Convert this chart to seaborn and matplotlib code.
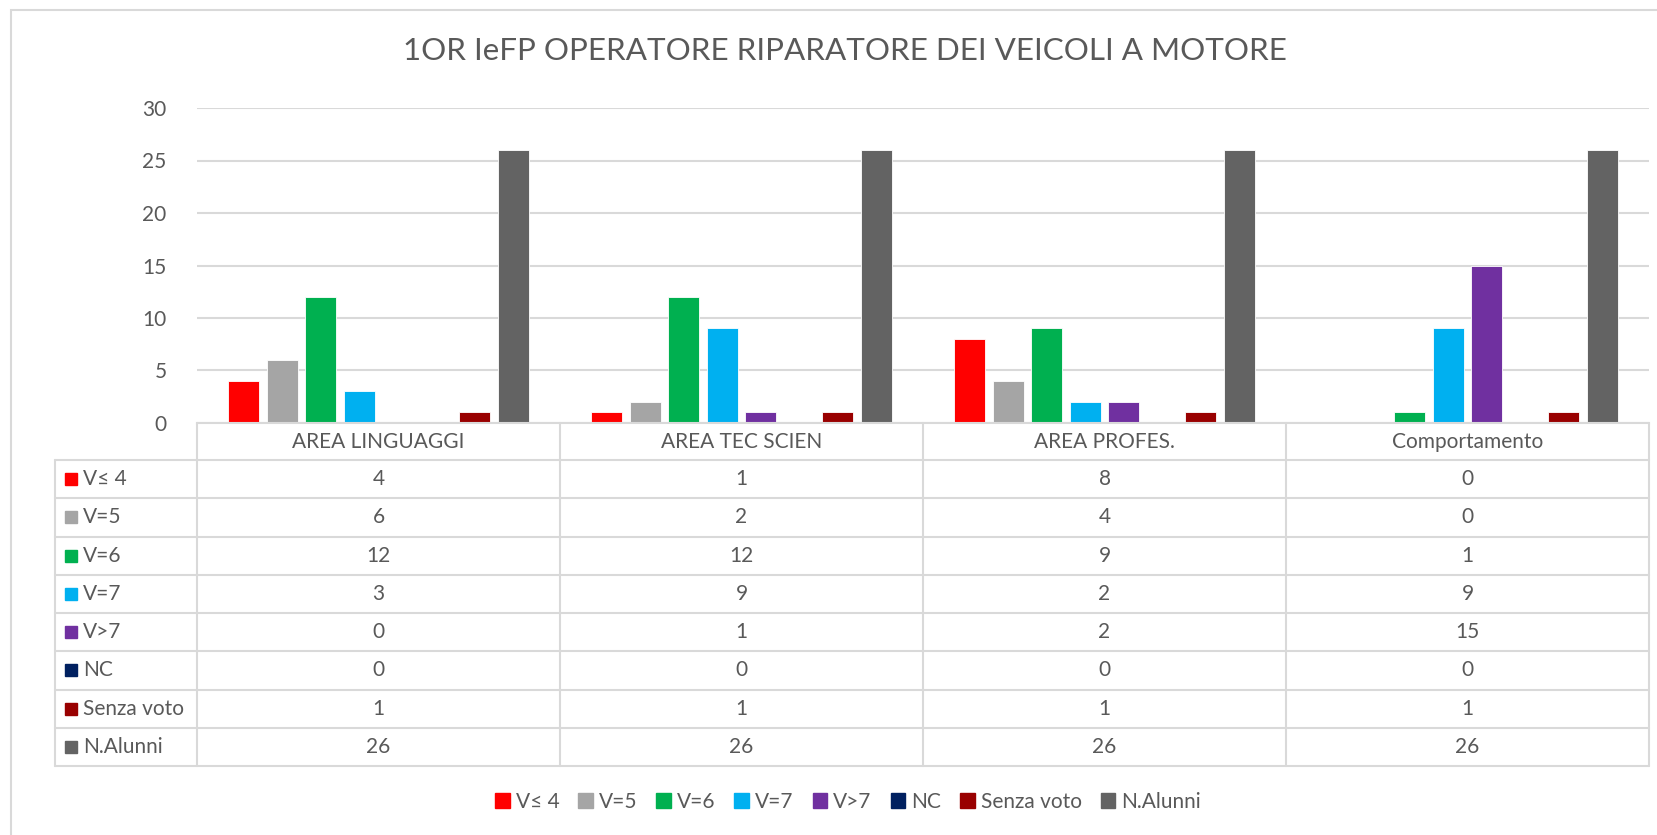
import numpy as np
import pandas as pd
import matplotlib
matplotlib.use("Agg")
import matplotlib.pyplot as plt
from matplotlib.patches import Patch, Rectangle
from matplotlib.lines import Line2D
import seaborn as sns

# data
categories = ["AREA LINGUAGGI", "AREA TEC SCIEN", "AREA PROFES.", "Comportamento"]
series = ["V\u2264 4", "V=5", "V=6", "V=7", "V>7", "NC", "Senza voto", "N.Alunni"]
v_le4 = [4, 1, 8, 0]
v_5 = [6, 2, 4, 0]
v_6 = [12, 12, 9, 1]
v_7 = [3, 9, 2, 9]
v_gt7 = [0, 1, 2, 15]
v_nc = [0, 0, 0, 0]
senza_voto = [1, 1, 1, 1]
n_alunni = [26, 26, 26, 26]
colors = ["#FF0000", "#A5A5A5", "#00B050", "#00B0F0", "#7030A0", "#002060", "#990000", "#636363"]
title = "1OR IeFP OPERATORE RIPARATORE DEI VEICOLI A MOTORE"

values = [v_le4, v_5, v_6, v_7, v_gt7, v_nc, senza_voto, n_alunni]
rows = []
for s, vals in zip(series, values):
    for c, v in zip(categories, vals):
        rows.append({"categoria": c, "serie": s, "valore": v})
df = pd.DataFrame(rows)

sns.set_style("white")
plt.rcParams["font.family"] = ["Lato", "DejaVu Sans"]
txt = "#595959"
grid = "#D9D9D9"
fs = 15

W, H = 1657, 835
fig = plt.figure(figsize=(W / 100, H / 100), dpi=100)


def fx(x):
    return x / W


def fy(y):
    return 1 - y / H


# chart area border (top and left visible)
fig.add_artist(Rectangle((fx(11), fy(900)), fx(1700), fy(10) - fy(900),
                         transform=fig.transFigure, fill=False, edgecolor=grid, lw=1.5))

left, right, top, base = 197, 1649, 108, 423
ax = fig.add_axes([fx(left), fy(base), fx(right - left), fy(top) - fy(base)])
sns.barplot(data=df, x="categoria", y="valore", hue="serie", order=categories,
            hue_order=series, palette=colors, saturation=1, width=0.85, gap=0.2,
            edgecolor="white", linewidth=0.6, legend=False, ax=ax)
ax.set_ylim(0, 30)
ax.set_xlim(-0.5, len(categories) - 0.5)
ax.set_yticks(range(0, 31, 5))
ax.yaxis.grid(True, color=grid, lw=1.5)
ax.set_axisbelow(True)
for sp in ["top", "right", "left"]:
    ax.spines[sp].set_visible(False)
ax.spines["bottom"].set_color(grid)
ax.spines["bottom"].set_linewidth(1.5)
ax.set_xticks([])
ax.set_xlabel("")
ax.set_ylabel("")
ax.tick_params(axis="y", length=0, labelsize=fs, labelcolor=txt, pad=22)

fig.text(fx(845), fy(51), title, ha="center", va="center", fontsize=22.6, color=txt)

# data table under the chart
tab_left = 55
col_edges = np.linspace(left, right, len(categories) + 1)
head_bottom = 460
row_h = (766 - head_bottom) / len(series)
lw = 1.5


def hline(y, x0, x1):
    fig.add_artist(Line2D([fx(x0), fx(x1)], [fy(y), fy(y)], transform=fig.transFigure, color=grid, lw=lw))


def vline(x, y0, y1):
    fig.add_artist(Line2D([fx(x), fx(x)], [fy(y0), fy(y1)], transform=fig.transFigure, color=grid, lw=lw))


for xe in col_edges:
    vline(xe, base, 766)
vline(tab_left, head_bottom, 766)
for i in range(len(series) + 1):
    hline(head_bottom + i * row_h, tab_left, right)

for j, c in enumerate(categories):
    cx = (col_edges[j] + col_edges[j + 1]) / 2
    fig.text(fx(cx), fy((base + head_bottom) / 2), c, ha="center", va="center", fontsize=fs, color=txt)

for i, (s, vals, col) in enumerate(zip(series, values, colors)):
    cy = head_bottom + (i + 0.5) * row_h
    fig.add_artist(Rectangle((fx(65), fy(cy + 6)), fx(12), fy(cy - 6) - fy(cy + 6),
                             transform=fig.transFigure, color=col))
    fig.text(fx(83), fy(cy), s, ha="left", va="center", fontsize=fs, color=txt)
    for j, v in enumerate(vals):
        cx = (col_edges[j] + col_edges[j + 1]) / 2
        fig.text(fx(cx), fy(cy), str(v), ha="center", va="center", fontsize=fs, color=txt)

handles = [Patch(facecolor=c, edgecolor=c, label=s) for s, c in zip(series, colors)]
fig.legend(handles=handles, loc="center", bbox_to_anchor=(fx(848), fy(802)), ncol=len(series),
           frameon=False, fontsize=fs, labelcolor=txt, handlelength=0.7, handleheight=0.7,
           handletextpad=0.3, columnspacing=0.9)

fig.savefig("out.png", dpi=100)
